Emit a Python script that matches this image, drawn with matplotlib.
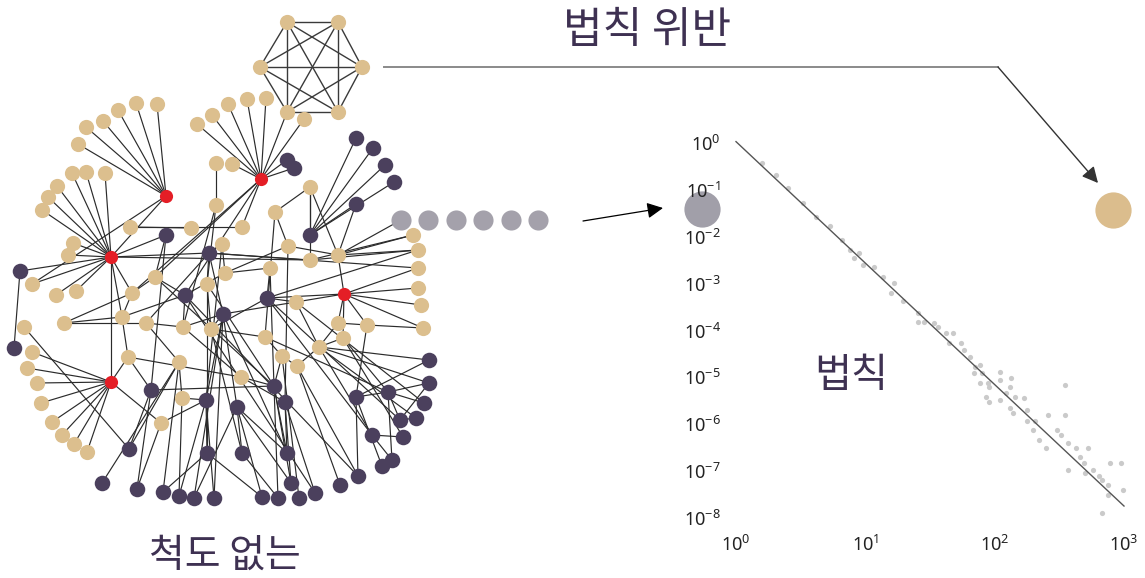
import numpy as np
import matplotlib
matplotlib.use("Agg")
import matplotlib.pyplot as plt
from matplotlib.patches import FancyArrowPatch
from matplotlib.ticker import NullLocator

plt.rcParams['font.family'] = ['Noto Sans CJK KR', 'DejaVu Sans']
plt.rcParams['mathtext.fontset'] = 'custom'
plt.rcParams['mathtext.rm'] = 'Noto Sans'

# ---- network layout (pixel positions) ----
red_x = [166, 261, 111, 344, 111]
red_y = [196, 179, 257, 294, 382]

tan_x = [78, 86, 103, 118, 136, 157, 197, 212, 228, 247, 266, 304, 216, 232,
         72, 86, 105, 57, 48, 42, 73, 68, 32, 56, 76, 24, 32, 27, 37, 41, 52,
         62, 74, 87, 413, 418, 418, 418, 421, 423, 338, 367, 338, 343, 130,
         191, 242, 216, 275, 310, 288, 310, 222, 225, 270, 155, 207, 132, 296,
         64, 122, 146, 183, 211, 265, 128, 179, 282, 297, 319, 241, 182, 161]
tan_y = [144, 127, 121, 110, 103, 104, 124, 115, 104, 99, 98, 119, 163, 164,
         173, 172, 173, 186, 197, 210, 243, 255, 284, 295, 291, 327, 352, 368,
         383, 403, 422, 435, 444, 452, 235, 250, 268, 288, 305, 328, 255, 325,
         323, 338, 227, 228, 227, 205, 212, 187, 246, 260, 244, 273, 268, 277,
         284, 293, 302, 323, 317, 323, 327, 329, 337, 357, 362, 356, 366, 347,
         377, 398, 423]

dark_x = [287, 294, 20, 14, 356, 373, 385, 394, 356, 310, 166, 209, 185, 267,
          223, 151, 274, 206, 237, 285, 356, 388, 429, 429, 424, 416, 400, 403,
          372, 392, 382, 358, 340, 315, 299, 291, 287, 278, 262, 242, 207, 214,
          194, 179, 163, 137, 102, 129]
dark_y = [160, 168, 271, 348, 138, 148, 165, 182, 204, 235, 235, 253, 295, 298,
          314, 390, 386, 400, 407, 402, 397, 392, 360, 383, 403, 418, 420, 437,
          435, 460, 466, 476, 485, 493, 498, 483, 453, 498, 497, 453, 453, 498,
          498, 496, 492, 489, 483, 449]

hex_x = [287, 338, 260, 362, 287, 338]
hex_y = [22, 22, 67, 67, 112, 112]

gray_x = [401, 428, 456, 483, 511, 538]
gray_y = [220, 220, 220, 220, 220, 220]

# star lists: first node linked to every following node
stars = [
    "r0 t0 t1 t2 t3 t4 t5 r2 t22",
    "r1 t6 t7 t8 t9 t10 h4 t11 d0 d1 t13 t57 d12 t55 t46",
    "r2 t14 t15 t16 t17 t18 t19 t20 t21 t22 t23 t24 d2 r4 t57 d10 d11 t51 t60",
    "r4 t26 t27 t28 t29 t30 t31 t32 t33 t65 t72",
    "r3 t36 t37 t38 t39 t40 t41 t42 t43 t58 d13",
    "d2 d3", "t25 d47", "t12 t47", "t44 t45 t46", "d10 d15 t55",
    "t47 t56 t62", "t49 t48 d9 t40 t51", "d9 d4 d5 d6 d7 d8",
    "t40 d8 t34 t35 g0 t50", "t48 t50 t64", "t50 t53 d19",
    "t51 t35 t34 d11", "d11 t52 d14 t56 t61 t36", "t52 t53 d17",
    "t53 t54 d12", "t54 d13 d16", "d13 t58 t35 d26 d28 t63",
    "t55 d12 t57 d16", "d12 t60 t62 d31 d33", "t56 t63 d16 d40",
    "t57 t59 t60", "t59 t61 t60", "t60 t65", "t61 t62 t66", "t62 d14 t70",
    "d14 d18 d17 d42 d41 t63 d36", "t63 t64 d39", "t64 t67 d21",
    "t58 d14 t69 d24", "t67 t68 d16 d34", "t68 t69 d32 d31",
    "t69 t43 d22 d25 d28 d23", "t42 t41 t69", "t41 t39 d20", "t43 d21 d27",
    "t65 t70 d15", "t66 t71 d44", "t70 d16 d19", "d15 d16 d45 d47",
    "t71 d17 d43", "t72 d17", "d16 d35 d37 d36", "d17 d41 d43 d40",
    "d18 d42 d38 d36 d35 d39", "d19 d36 d35 d33", "d20 d21 d22 d30 d31",
    "d21 d24 d26 d23 d29", "d47 t66", "d46 t66", "d44 d40", "d45 t72",
    "d28 d27 d29", "d26 d25 d23", "d38 d40", "d39 d37",
]

# ---- degree distribution (log10 values) ----
log_k = [0.20, 0.31, 0.40, 0.52, 0.62, 0.73, 0.82, 0.88, 0.91, 0.95, 0.98, 1.07,
         1.14, 1.22, 1.20, 1.29, 1.41, 1.45, 1.41, 1.53, 1.56, 1.62, 1.68, 1.65,
         1.74, 1.76, 1.81, 1.85, 1.89, 1.84, 1.90, 1.95, 1.89, 1.96, 2.04, 2.04,
         2.13, 2.12, 1.93, 1.96, 2.04, 2.09, 2.16, 2.23, 2.12, 2.14, 2.25, 2.25,
         2.31, 2.30, 2.34, 2.40, 2.41, 2.54, 2.54, 2.48, 2.51, 2.57, 2.63, 2.72,
         2.57, 2.66, 2.69, 2.70, 2.76, 2.81, 2.83, 2.88, 2.89, 2.98, 2.99, 2.88,
         2.83]
log_p = [-0.43, -0.68, -0.97, -1.29, -1.57, -1.78, -2.07, -2.28, -2.46, -2.35,
         -2.60, -2.64, -2.85, -2.99, -3.21, -3.38, -3.63, -3.81, -3.81, -3.85,
         -3.92, -4.06, -4.06, -4.27, -4.27, -4.41, -4.56, -4.77, -4.73, -4.91,
         -4.91, -5.12, -5.12, -5.20, -4.88, -5.05, -5.02, -5.20, -5.41, -5.52,
         -5.48, -5.34, -5.41, -5.44, -5.66, -5.76, -5.69, -5.94, -5.94, -6.12,
         -6.33, -6.51, -5.80, -5.80, -5.16, -6.12, -6.23, -6.40, -6.51, -6.51,
         -6.97, -6.69, -6.83, -7.04, -6.97, -7.11, -7.19, -7.29, -6.83, -6.83,
         -7.40, -7.51, -7.90]
fit_k = [1, 1000]
fit_p = [1.07, 1.8e-8]

x_ticks = [1, 10, 100, 1000]
x_labels = ['$10^{0}$', '$10^{1}$', '$10^{2}$', '$10^{3}$']
y_ticks = [10.0 ** -i for i in range(9)]
y_labels = ['$10^{%d}$' % -i if i else '$10^{0}$' for i in range(9)]

TAN = '#dcbf8e'
DARK = '#4b405d'
RED = '#e41e26'
GRAY = '#a4a1ab'
TXT = '#3e3152'

W, H = 1145, 578
fig = plt.figure(figsize=(W / 100, H / 100), dpi=100)
ax = fig.add_axes([0, 0, 1, 1])
ax.set_xlim(0, W)
ax.set_ylim(H, 0)
ax.axis('off')

pos = {}
for pre, xs, ys in (('r', red_x, red_y), ('t', tan_x, tan_y), ('d', dark_x, dark_y),
                    ('h', hex_x, hex_y), ('g', gray_x, gray_y)):
    for i in range(len(xs)):
        pos[pre + str(i)] = (xs[i], ys[i])

for s in stars:
    names = s.split()
    a = pos[names[0]]
    for n in names[1:]:
        b = pos[n]
        ax.plot([a[0], b[0]], [a[1], b[1]], color='#2b2b2b', lw=0.85, zorder=1)

for i in range(6):
    for j in range(i + 1, 6):
        ax.plot([hex_x[i], hex_x[j]], [hex_y[i], hex_y[j]], color='#3a3a3a',
                lw=1.0, zorder=1)

ax.scatter(tan_x, tan_y, s=120, color=TAN, lw=0, zorder=3)
ax.scatter(hex_x, hex_y, s=120, color=TAN, lw=0, zorder=3)
ax.scatter(dark_x, dark_y, s=125, color=DARK, lw=0, zorder=3)
ax.scatter(red_x, red_y, s=90, color=RED, lw=0, zorder=4)
ax.scatter(gray_x, gray_y, s=210, color=GRAY, lw=0, zorder=3)

# big markers beside the plot
ax.scatter([702], [209], s=680, color='#a19fa9', lw=0, zorder=3)
ax.scatter([1113], [210], s=680, color='#dbbd8d', lw=0, zorder=3)

# arrows
ax.add_patch(FancyArrowPatch((583, 221), (663, 208), arrowstyle='-|>',
                             mutation_scale=24, color='black', lw=0.9,
                             shrinkA=0, shrinkB=0))
ax.plot([384, 998], [67, 67], color='#8a8a8a', lw=1.4, zorder=1)
ax.add_patch(FancyArrowPatch((998, 67), (1098, 183), arrowstyle='-|>',
                             mutation_scale=24, color='#333333', lw=1.0,
                             shrinkA=0, shrinkB=0))

ax.text(647, 31, '법칙 위반', fontsize=31, color=TXT, ha='center', va='center')
ax.text(851, 375, '법칙', fontsize=29, color=TXT, ha='center', va='center')
ax.text(225, 556, '척도 없는', fontsize=28, color=TXT, ha='center', va='center')

# ---- log-log inset ----
ax2 = fig.add_axes([736 / W, 1 - 518 / H, (1124 - 736) / W, (518 - 143) / H])
ax2.set_xscale('log')
ax2.set_yscale('log')
ax2.patch.set_alpha(0)
for sp in ax2.spines.values():
    sp.set_visible(False)
ax2.scatter(10.0 ** np.array(log_k), 10.0 ** np.array(log_p), s=14,
            color='#cacaca', lw=0, clip_on=False)
ax2.plot(fit_k, fit_p, color='#555555', lw=1.0, clip_on=False)
ax2.set_xlim(1, 1000)
ax2.set_ylim(1e-8, 1)
ax2.set_xticks(x_ticks)
ax2.set_xticklabels(x_labels)
ax2.set_yticks(y_ticks)
ax2.set_yticklabels(y_labels)
ax2.xaxis.set_minor_locator(NullLocator())
ax2.yaxis.set_minor_locator(NullLocator())
ax2.tick_params(axis='x', length=0, pad=12, labelsize=13, labelcolor='#222222')
ax2.tick_params(axis='y', length=0, pad=11, labelsize=13, labelcolor='#222222')

fig.savefig('out.png', dpi=100)
